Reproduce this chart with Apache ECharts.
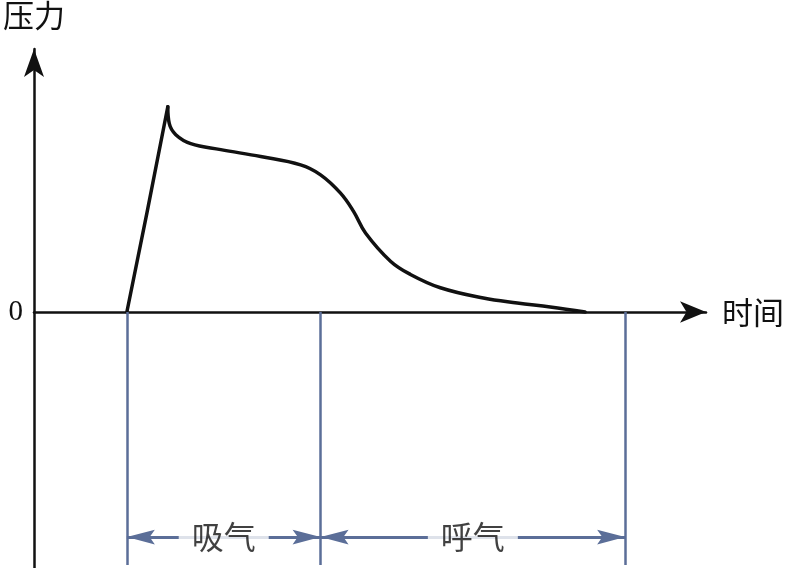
<!DOCTYPE html>
<html>
<head>
<meta charset="utf-8">
<script src="https://cdn.jsdelivr.net/npm/echarts@6/dist/echarts.min.js"></script>
<style>
  html, body { margin: 0; padding: 0; background: #fff; }
  #chart { width: 790px; height: 568px; }
</style>
</head>
<body>
<div id="chart"></div>
<script>
// ---- data (time units / pressure units) ----
const riseTime = [9.3, 11.3, 13.4];
const risePressure = [0, 9.9, 20.6];

const decayTime = [13.4, 13.55, 14.2, 15.7, 18.7, 22.7, 26.7, 28.7, 30.7, 32.0, 33.2, 35.7, 37.7, 40.7, 45.0, 48.4, 51.7, 55.2];
const decayPressure = [20.6, 18.9, 17.8, 16.9, 16.3, 15.6, 14.77, 13.77, 11.93, 10.1, 7.93, 5.1, 3.77, 2.43, 1.4, 0.9, 0.5, 0];

const phaseBounds = [9.3, 28.7, 59.2];   // inhale start, inhale end / exhale start, exhale end
const phaseNames = ['吸气', '呼气'];
const phaseArrowLevel = -22.6;
const phaseLineBottom = -25.4;

const yTickLabels = ['0'];
const yAxisName = '压力';
const xAxisName = '时间';

const xMin = 0, xMax = 67.3;
const yMin = -25.7, yMax = 26.4, yInterval = 25.7;

// ---- build ----
const zip = (a, b) => a.map((v, i) => [v, b[i]]);
const blue = '#5b6e98';
const ink = '#111111';
const arrowPath = 'path://M7,0 L14,27 L7,22 L0,27 Z';

const verticalLines = phaseBounds.map(t => [{ coord: [t, 0] }, { coord: [t, phaseLineBottom] }]);
const arrowEnd = c => ({ coord: c, symbolOffset: [0, 14] });
const arrowLines = phaseNames.map((n, i) => [
  arrowEnd([phaseBounds[i], phaseArrowLevel]),
  arrowEnd([phaseBounds[i + 1], phaseArrowLevel])
]);
const labelPoints = phaseNames.map((n, i) => ({
  value: [(phaseBounds[i] + phaseBounds[i + 1]) / 2, phaseArrowLevel],
  name: n
}));

const chart = echarts.init(document.getElementById('chart'), null, { renderer: 'canvas' });
chart.setOption({
  animation: false,
  backgroundColor: '#fff',
  grid: { left: 33, right: 84, top: 47, bottom: 0 },
  xAxis: {
    type: 'value', min: xMin, max: xMax,
    name: xAxisName, nameLocation: 'end', nameGap: 16,
    nameTextStyle: { fontFamily: 'Noto Sans CJK SC', fontSize: 31, color: ink, verticalAlign: 'middle' },
    axisLine: { onZero: true, symbol: ['none', 'arrow'], symbolSize: [16, 26], lineStyle: { color: ink, width: 2.5 } },
    axisTick: { show: false }, axisLabel: { show: false }, splitLine: { show: false }
  },
  yAxis: {
    type: 'value', min: yMin, max: yMax, interval: yInterval,
    name: yAxisName, nameLocation: 'end', nameGap: 18,
    nameTextStyle: { fontFamily: 'Noto Sans CJK SC', fontSize: 31, color: ink, align: 'center' },
    axisLine: { show: true, onZero: false, symbol: ['none', 'arrow'], symbolSize: [15, 28], lineStyle: { color: ink, width: 2.5 } },
    axisTick: { show: false },
    axisLabel: {
      formatter: v => (Math.abs(v) < 1e-9 ? yTickLabels[0] : ''),
      fontFamily: 'Liberation Serif', fontSize: 29, color: ink, margin: 11
    },
    splitLine: { show: false }
  },
  series: [
    {
      type: 'line', data: zip(riseTime, risePressure), smooth: false, symbol: 'none',
      lineStyle: { color: ink, width: 3.5, cap: 'round', join: 'round' }, z: 4
    },
    {
      type: 'line', data: zip(decayTime, decayPressure), smooth: 0.4, symbol: 'none',
      lineStyle: { color: ink, width: 3.5, cap: 'round', join: 'round' }, z: 4,
      markLine: {
        silent: true, symbol: 'none', label: { show: false },
        lineStyle: { color: blue, width: 2.5, type: 'solid' },
        data: verticalLines
      }
    },
    {
      type: 'line', data: [], symbol: 'none',
      markLine: {
        silent: true,
        symbol: [arrowPath, arrowPath],
        symbolSize: 28,
        symbolKeepAspect: true,
        label: { show: false },
        lineStyle: { color: blue, width: 3, type: 'solid' },
        data: arrowLines
      }
    },
    {
      type: 'scatter', data: labelPoints, symbolSize: 0, z: 10, silent: true,
      label: {
        show: true, position: 'inside', formatter: p => p.name,
        fontFamily: 'Noto Sans CJK SC', fontSize: 32, color: ink,
        backgroundColor: '#fff', padding: [2, 13]
      }
    }
  ]
});
</script>
</body>
</html>
